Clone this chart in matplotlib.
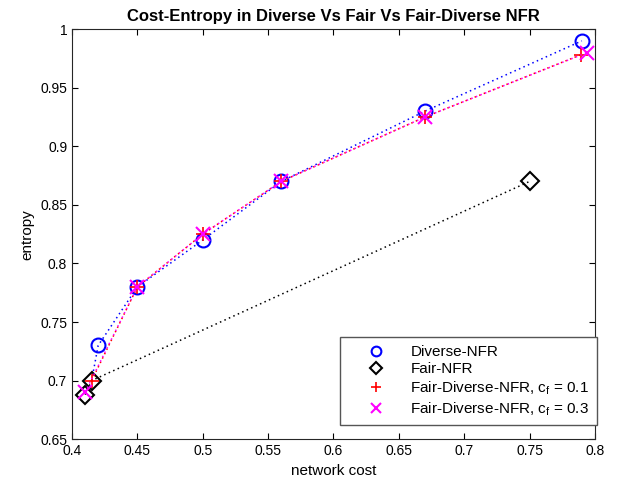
import numpy as np
import matplotlib.pyplot as plt

plt.rcParams['font.family'] = ['Liberation Sans', 'DejaVu Sans']

# Diverse-NFR (line starts at first point, no marker drawn there)
div_cost = [0.415, 0.42, 0.45, 0.50, 0.56, 0.67, 0.79]
div_ent = [0.70, 0.73, 0.78, 0.82, 0.87, 0.93, 0.99]

fair_cost = [0.41, 0.415, 0.75]
fair_ent = [0.688, 0.70, 0.87]

fd1_cost = [0.415, 0.45, 0.50, 0.56, 0.67, 0.789]
fd1_ent = [0.70, 0.78, 0.825, 0.87, 0.925, 0.978]

fd3_cost = [0.41, 0.45, 0.50, 0.56, 0.67, 0.794]
fd3_ent = [0.69, 0.78, 0.825, 0.87, 0.925, 0.98]

dots = (0, (1, 2.2))

fig = plt.figure(figsize=(6.21, 4.94), dpi=100)
ax = fig.add_axes([0.116, 0.111, 0.842, 0.830])

ax.plot(div_cost, div_ent, linestyle=dots, color='blue', linewidth=1.1)
ax.plot(div_cost[1:], div_ent[1:], 'o', color='blue', markerfacecolor='none',
        markersize=10, markeredgewidth=1.5, label='Diverse-NFR')
ax.plot(fair_cost, fair_ent, linestyle=dots, color='black', linewidth=1.1)
ax.plot(fair_cost, fair_ent, 'D', color='black', markerfacecolor='none',
        markersize=9, markeredgewidth=1.5, label='Fair-NFR')
ax.plot(fd1_cost, fd1_ent, linestyle=dots, color='red', linewidth=1.1)
ax.plot(fd1_cost, fd1_ent, '+', color='red', markersize=10,
        markeredgewidth=1.2, label=r'Fair-Diverse-NFR, c$_\mathregular{f}$ = 0.1')
ax.plot(fd3_cost, fd3_ent, linestyle=dots, color='magenta', linewidth=1.1)
ax.plot(fd3_cost, fd3_ent, 'x', color='magenta', markersize=10,
        markeredgewidth=1.5, label=r'Fair-Diverse-NFR, c$_\mathregular{f}$ = 0.3')

ax.set_xlim(0.4, 0.8)
ax.set_ylim(0.65, 1.0)
ax.set_xticks(np.arange(0.4, 0.801, 0.05))
ax.set_xticklabels(['0.4', '0.45', '0.5', '0.55', '0.6', '0.65', '0.7', '0.75', '0.8'])
ax.set_yticks(np.arange(0.65, 1.001, 0.05))
ax.set_yticklabels(['0.65', '0.7', '0.75', '0.8', '0.85', '0.9', '0.95', '1'])
ax.tick_params(direction='in', length=4, labelsize=10, top=True, right=True)
for s in ax.spines.values():
    s.set_color('#262626')
    s.set_linewidth(0.8)

ax.set_xlabel('network cost', fontsize=11)
ax.set_ylabel('entropy', fontsize=11)
ax.set_title('Cost-Entropy in Diverse Vs Fair Vs Fair-Diverse NFR', fontsize=12, fontweight='bold')

leg = ax.legend(loc='lower right', bbox_to_anchor=(1.004, 0.034), borderaxespad=0,
                fontsize=11, fancybox=False, framealpha=1, edgecolor='#555555',
                handlelength=3.7, handletextpad=0.4, markerscale=0.7,
                labelspacing=0.2, borderpad=0.5)
leg.get_frame().set_linewidth(1.0)

plt.savefig('out.png', dpi=100)
